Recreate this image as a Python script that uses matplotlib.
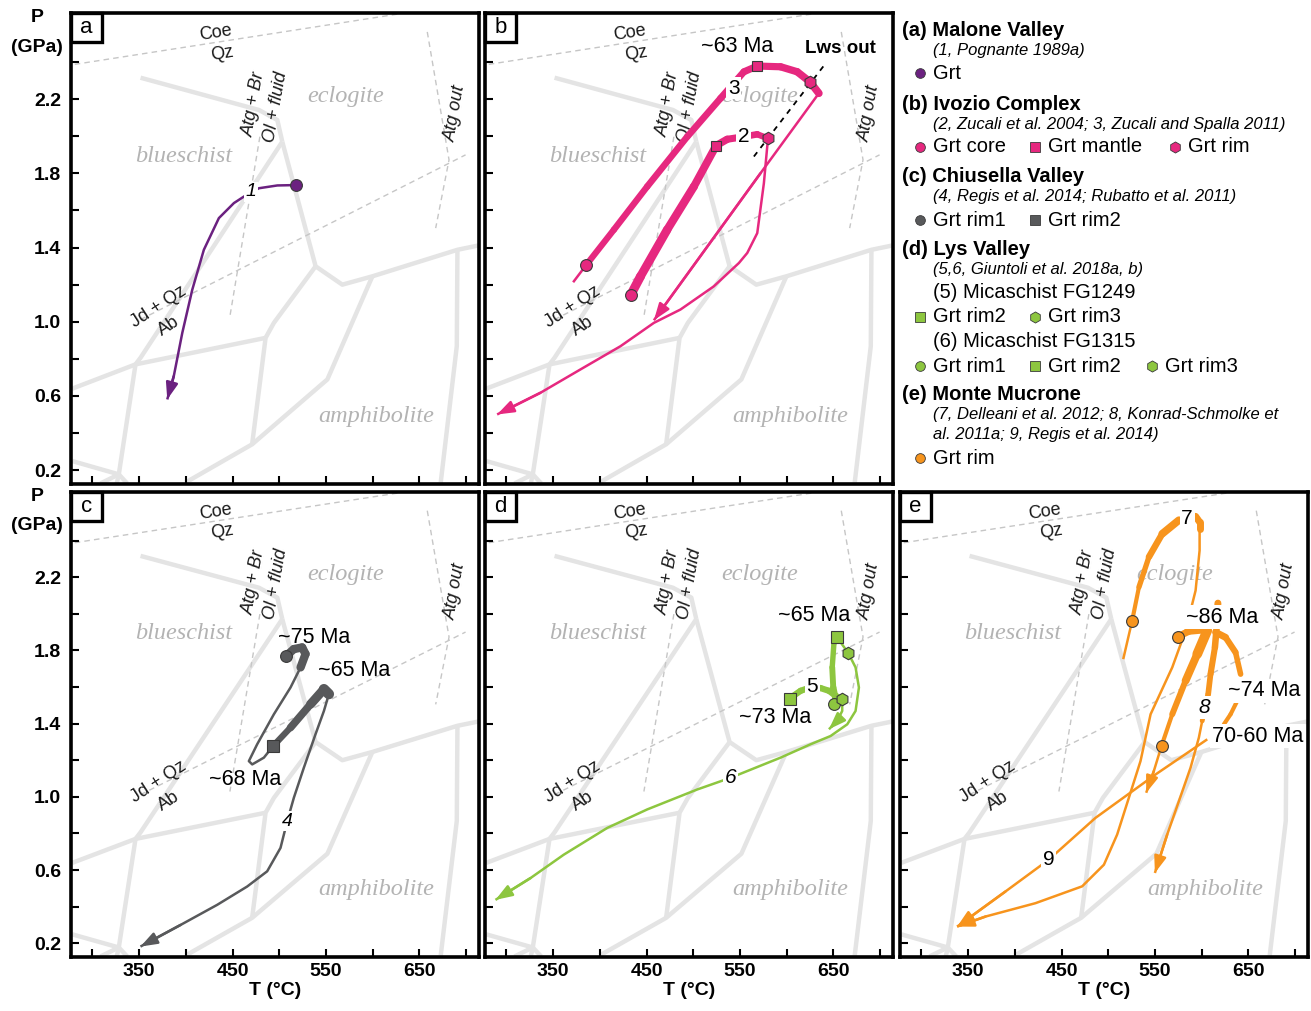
import numpy as np
import matplotlib.pyplot as plt
from matplotlib.collections import LineCollection
from matplotlib.patches import Rectangle

plt.rcParams['font.family'] = ['Liberation Sans', 'DejaVu Sans']

# ---------------- petrogenetic grid, T (°C) / P (GPa) ----------------
facies_T = [
    [351.5, 478.3, 498.0, 503.3],
    [503.3, 351.5, 346.1, 328.2, 326.0],
    [503.3, 539.0, 567.6, 599.8, 690.9, 714.0],
    [539.0, 494.3, 485.4, 471.0],
    [278.2, 346.1, 485.4],
    [599.8, 551.6, 471.0, 399.7],
    [690.9, 690.2, 673.0],
    [278.2, 328.2, 337.2],
    [328.2, 308.6],
]
facies_P = [
    [2.316, 2.142, 2.088, 1.971],
    [1.971, 0.806, 0.770, 0.177, 0.128],
    [1.971, 1.299, 1.200, 1.245, 1.388, 1.412],
    [1.299, 0.994, 0.913, 0.339],
    [0.639, 0.770, 0.913],
    [1.245, 0.689, 0.339, 0.133],
    [1.388, 0.868, 0.133],
    [0.249, 0.177, 0.128],
    [0.177, 0.128],
]
react_T = [[281.0, 628.0], [479.3, 447.2], [351.5, 699.6], [658.6, 681.9, 667.6]]
react_P = [[2.388, 2.660], [1.998, 1.029], [1.012, 1.900], [2.563, 1.873, 1.505]]

grid_text = ['Coe', 'Qz', 'Atg + Br', 'Ol + fluid', 'Atg out', 'Jd + Qz', 'Ab']
grid_text_T = [431.8, 439.0, 473.6, 496.1, 688.9, 371.1, 381.8]
grid_text_P = [2.555, 2.447, 2.174, 2.160, 2.124, 1.083, 0.976]
grid_text_rot = [9, 9, 80, 80, 80, 33, 33]
grid_text_ital = [False, False, True, True, True, False, False]

facies_names = ['eclogite', 'blueschist', 'amphibolite']
facies_name_T = [571.2, 397.9, 604.4]
facies_name_P = [2.214, 1.891, 0.491]

# ---------------- (a) Malone Valley ----------------
a1_T = [517.6, 498.0, 478.3, 462.2, 451.5, 435.4, 419.3, 406.9, 396.2, 387.1, 380.1]
a1_P = [1.737, 1.735, 1.720, 1.675, 1.640, 1.559, 1.388, 1.173, 0.940, 0.707, 0.581]
a_grt = ([517.6], [1.737])

# ---------------- (b) Ivozio Complex ----------------
b3_tail_T = [371.4, 385.7]
b3_tail_P = [1.213, 1.308]
b3_thick_T = [385.7, 415.0, 450.7, 493.6, 529.3, 554.3, 568.6, 593.6, 611.4, 625.0, 634.6]
b3_thick_P = [1.308, 1.496, 1.729, 1.998, 2.205, 2.348, 2.379, 2.375, 2.348, 2.294, 2.232]
b3_retro_T = [634.6, 572.1, 457.9]
b3_retro_P = [2.232, 1.801, 1.008]
b2_thick_T = [432.9, 443.6, 472.1, 500.7, 524.6, 536.4, 554.3, 568.6, 580.0]
b2_thick_P = [1.143, 1.245, 1.496, 1.729, 1.950, 1.984, 1.998, 2.011, 1.989]
b2_retro_T = [580.0, 579.3, 575.7, 568.6, 557.9, 549.0, 522.1, 486.4, 457.9, 422.1, 379.3, 336.4, 290.0]
b2_retro_P = [1.989, 1.945, 1.747, 1.478, 1.371, 1.317, 1.191, 1.066, 0.994, 0.868, 0.743, 0.617, 0.500]
b_core = ([385.7, 432.9], [1.308, 1.143])
b_mantle = ([568.6, 524.6], [2.379, 1.950])
b_rim = ([625.0, 580.0], [2.294, 1.989])
lws_T = [565.0, 641.8]
lws_P = [1.891, 2.393]

# ---------------- (c) Chiusella Valley ----------------
c_hook_T = [506.8, 515.7, 524.6, 528.2, 522.9]
c_hook_P = [1.767, 1.807, 1.816, 1.780, 1.707]
c_loop_T = [522.9, 512.1, 494.3, 476.4, 467.5, 471.1, 483.6, 493.6]
c_loop_P = [1.707, 1.597, 1.451, 1.287, 1.195, 1.177, 1.214, 1.278]
c_thick_T = [493.6, 512.1, 533.6, 547.9, 553.2]
c_thick_P = [1.278, 1.378, 1.506, 1.588, 1.561]
c_retro_T = [553.2, 547.9, 538.9, 526.4, 515.7, 508.6, 501.4, 487.1, 465.7, 433.6, 394.3, 351.4]
c_retro_P = [1.561, 1.469, 1.342, 1.159, 0.995, 0.867, 0.721, 0.593, 0.510, 0.410, 0.300, 0.182]
c_rim1 = ([506.8], [1.767])
c_rim2 = ([493.6], [1.278])

# ---------------- (d) Lys Valley ----------------
d6_thick_T = [650.7, 652.5, 650.0, 648.9, 650.7, 653.6]
d6_thick_P = [1.506, 1.533, 1.597, 1.707, 1.835, 1.875]
d6_retro_T = [653.6, 666.1, 673.9, 677.5, 673.9, 665.0, 647.1, 625.7, 593.6, 540.0, 504.3,
              450.7, 407.9, 361.4, 325.7, 288.2]
d6_retro_P = [1.875, 1.785, 1.707, 1.597, 1.469, 1.396, 1.332, 1.287, 1.214, 1.104, 1.040,
              0.931, 0.830, 0.684, 0.556, 0.437]
d5_thick_T = [603.2, 615.0, 627.5, 636.4, 645.4, 652.5, 659.6]
d5_thick_P = [1.537, 1.579, 1.601, 1.594, 1.579, 1.552, 1.533]
d5_retro_T = [659.6, 659.6, 654.3, 645.4]
d5_retro_P = [1.533, 1.469, 1.415, 1.369]
d_rim1 = ([650.7], [1.506])
d_rim2 = ([603.2, 653.6], [1.537, 1.875])
d_rim3 = ([659.6, 666.1], [1.533, 1.785])

# ---------------- (e) Monte Mucrone ----------------
e7_tail_T = [516.1, 525.7]
e7_tail_P = [1.752, 1.963]
e7_thick_T = [525.7, 532.9, 543.6, 557.9, 575.7]
e7_thick_P = [1.963, 2.145, 2.310, 2.437, 2.511]
e7_top_T = [593.6, 597.9, 597.9]
e7_top_P = [2.532, 2.501, 2.465]
e7_retro_T = [597.9, 597.9, 593.6, 582.9, 568.6, 545.4, 534.6, 520.4, 509.6, 495.4, 472.1,
              422.1, 368.6, 338.2]
e7_retro_P = [2.465, 2.346, 2.127, 1.908, 1.707, 1.451, 1.195, 0.967, 0.794, 0.629, 0.511,
              0.419, 0.346, 0.291]
e8a_T = [574.6, 586.4, 606.1]
e8a_P = [1.875, 1.904, 1.913]
e8b_T = [557.1, 568.6, 582.9, 595.4, 606.1]
e8b_P = [1.278, 1.451, 1.634, 1.780, 1.908]
e8c_T = [615.0, 625.7, 636.4, 641.8]
e8c_P = [1.899, 1.871, 1.789, 1.670]
e8d_T = [640.0, 638.2, 631.1, 623.9]
e8d_P = [1.597, 1.524, 1.451, 1.396]
e8e_T = [617.5, 616.8, 614.3, 609.6, 607.1, 603.2, 600.7]
e8e_P = [2.058, 1.963, 1.816, 1.670, 1.561, 1.488, 1.415]
e8_retro_T = [600.7, 597.1, 588.2, 575.7, 563.2, 550.0]
e8_retro_P = [1.415, 1.323, 1.159, 0.976, 0.794, 0.584]
e8f_T = [557.1, 548.9, 540.7]
e8f_P = [1.278, 1.141, 1.022]
e9_T = [606.1, 550.7, 486.4, 436.4, 390.0, 338.2]
e9_P = [1.314, 1.122, 0.885, 0.657, 0.483, 0.291]
e_rim = ([525.7, 574.6, 557.1], [1.963, 1.875, 1.278])

PURPLE, PINK, GREY, GREEN, ORANGE = '#6b2180', '#e6287f', '#58595b', '#8dc63f', '#f7941d'
EDGE = '#3a3a3a'


def thin(ax, T, P, c, arrow=False, lw=1.8):
    ax.plot(T, P, color=c, lw=lw, solid_capstyle='butt', solid_joinstyle='round', zorder=3)
    if arrow:
        ax.annotate('', xy=(T[-1], P[-1]), xytext=(T[-2], P[-2]), zorder=3,
                    arrowprops=dict(arrowstyle='-|>,head_length=1.0,head_width=0.36',
                                    color=c, lw=lw, shrinkA=0, shrinkB=0))


def thick(ax, T, P, c, w0, w1=None):
    w1 = w0 if w1 is None else w1
    pts = np.column_stack([T, P])
    segs = np.stack([pts[:-1], pts[1:]], axis=1)
    lc = LineCollection(segs, colors=c, linewidths=np.linspace(w0, w1, len(segs)), zorder=3)
    lc.set_capstyle('round')
    ax.add_collection(lc)


def marks(ax, xy, c, m, ms=8.5):
    ax.plot(xy[0], xy[1], ls='none', marker=m, ms=ms, mfc=c, mec=EDGE, mew=0.8, zorder=5)


def tag(ax, T, P, s, size=14, style='normal', box=True):
    kw = dict(boxstyle='square,pad=0.08', fc='white', ec='none') if box else None
    ax.text(T, P, s, fontsize=size, style=style, ha='center', va='center', bbox=kw, zorder=4)


def setup(ax, letter, xlab, ylab):
    ax.set_xlim(277, 714)
    ax.set_ylim(0.125, 2.665)
    ax.set_xticks([350, 450, 550, 650])
    ax.set_xticks([300, 400, 500, 600, 700], minor=True)
    ax.set_yticks([0.2, 0.6, 1.0, 1.4, 1.8, 2.2])
    ax.set_yticklabels(['0.2', '0.6', '1.0', '1.4', '1.8', '2.2'])
    ax.set_yticks([0.4, 0.8, 1.2, 1.6, 2.0, 2.4], minor=True)
    ax.tick_params(which='both', direction='in', length=6, width=1.5, labelsize=14,
                   labelbottom=xlab, labelleft=ylab)
    ax.tick_params(axis='x', pad=4)
    ax.tick_params(axis='y', pad=7)
    for lab in ax.get_xticklabels() + ax.get_yticklabels():
        lab.set_fontweight('bold')
    for sp in ax.spines.values():
        sp.set_linewidth(2.6)
    if xlab:
        ax.set_xlabel('T (°C)', fontsize=14, fontweight='bold', labelpad=2)
    if ylab:
        ax.text(-0.083, 0.99, 'P', transform=ax.transAxes, ha='center', va='center',
                fontsize=14, fontweight='bold')
        ax.text(-0.083, 0.927, '(GPa)', transform=ax.transAxes, ha='center', va='center',
                fontsize=14, fontweight='bold')
    ax.add_patch(Rectangle((0, 1 - 29 / 471), 31 / 408, 29 / 471, transform=ax.transAxes,
                           fc='white', ec='black', lw=2.4, zorder=6, clip_on=False))
    ax.text(15.5 / 408, 1 - 14.5 / 471, letter, transform=ax.transAxes, ha='center',
            va='center', fontsize=16, zorder=7)

    # background grid
    for T, P in zip(facies_T, facies_P):
        ax.plot(T, P, color='#e4e4e4', lw=3.2, solid_capstyle='butt', zorder=1)
    for T, P in zip(react_T, react_P):
        ax.plot(T, P, color='#c6c6c6', lw=1.0, ls=(0, (4, 3)), zorder=1)
    for s, T, P, r, it in zip(grid_text, grid_text_T, grid_text_P, grid_text_rot, grid_text_ital):
        ax.text(T, P, s, fontsize=13, rotation=r, style='italic' if it else 'normal',
                ha='center', va='center', rotation_mode='anchor', color='#1a1a1a', zorder=2)
    for s, T, P in zip(facies_names, facies_name_T, facies_name_P):
        ax.text(T, P, s, fontsize=17.5, family='Liberation Serif', style='italic',
                color='#b3b3b3', ha='center', va='center', zorder=2)


fig = plt.figure(figsize=(13.11, 10.11), dpi=100)


def px_axes(l, t, r, b):
    return fig.add_axes([l / 1311, 1 - b / 1011, (r - l) / 1311, (b - t) / 1011])


ax_a = px_axes(71, 13, 479, 484)
ax_b = px_axes(485, 13, 893, 484)
ax_c = px_axes(71, 492, 479, 957)
ax_d = px_axes(485, 492, 893, 957)
ax_e = px_axes(900, 492, 1308, 957)

setup(ax_a, 'a', False, True)
setup(ax_b, 'b', False, False)
setup(ax_c, 'c', True, True)
setup(ax_d, 'd', True, False)
setup(ax_e, 'e', True, False)

# (a)
thin(ax_a, a1_T, a1_P, PURPLE, arrow=True)
marks(ax_a, a_grt, PURPLE, 'o')
tag(ax_a, 469.5, 1.70, '1', style='italic')

# (b)
ax_b.plot(lws_T, lws_P, color='black', lw=1.3, ls=(0, (3, 3)), zorder=2)
ax_b.text(657.9, 2.474, 'Lws out', fontsize=13.5, fontweight='bold', ha='center', va='center')
thin(ax_b, b3_tail_T, b3_tail_P, PINK)
thick(ax_b, b3_thick_T, b3_thick_P, PINK, 4.5, 5.5)
thin(ax_b, b3_retro_T, b3_retro_P, PINK, arrow=True)
thick(ax_b, b2_thick_T, b2_thick_P, PINK, 6.5, 4.5)
thin(ax_b, b2_retro_T, b2_retro_P, PINK, arrow=True)
marks(ax_b, b_core, PINK, 'o')
marks(ax_b, b_mantle, PINK, 's', 7.5)
marks(ax_b, b_rim, PINK, 'h', 9)
tag(ax_b, 543.6, 2.259, '3', size=15)
tag(ax_b, 554.3, 1.998, '2', size=15)
tag(ax_b, 547.1, 2.483, '~63 Ma', size=15.5, box=False)

# (c)
thick(ax_c, c_hook_T, c_hook_P, GREY, 6)
thin(ax_c, c_loop_T, c_loop_P, GREY)
thick(ax_c, c_thick_T, c_thick_P, GREY, 4.5, 7.5)
thin(ax_c, c_retro_T, c_retro_P, GREY, arrow=True)
marks(ax_c, c_rim1, GREY, 'o')
marks(ax_c, c_rim2, GREY, 's', 8)
tag(ax_c, 508.6, 0.867, '4', style='italic')
tag(ax_c, 537.1, 1.871, '~75 Ma', size=15.5, box=False)
tag(ax_c, 580.0, 1.689, '~65 Ma', size=15.5, box=False)
tag(ax_c, 464.0, 1.095, '~68 Ma', size=15.5, box=False)

# (d)
thick(ax_d, d6_thick_T, d6_thick_P, GREEN, 5, 3.5)
thin(ax_d, d6_retro_T, d6_retro_P, GREEN, arrow=True)
thick(ax_d, d5_thick_T, d5_thick_P, GREEN, 4.5)
thin(ax_d, d5_retro_T, d5_retro_P, GREEN, arrow=True)
marks(ax_d, d_rim1, GREEN, 'o')
marks(ax_d, d_rim2, GREEN, 's', 8)
marks(ax_d, d_rim3, GREEN, 'h', 9)
tag(ax_d, 627.5, 1.601, '5', size=15)
tag(ax_d, 540.0, 1.104, '6', size=15, style='italic')
tag(ax_d, 629.3, 1.990, '~65 Ma', size=15.5, box=False)
tag(ax_d, 588.2, 1.433, '~73 Ma', size=15.5, box=False)

# (e)
thin(ax_e, e7_tail_T, e7_tail_P, ORANGE)
thick(ax_e, e7_thick_T, e7_thick_P, ORANGE, 3, 5.5)
thick(ax_e, e7_top_T, e7_top_P, ORANGE, 5)
thin(ax_e, e7_retro_T, e7_retro_P, ORANGE, arrow=True)
thick(ax_e, e8a_T, e8a_P, ORANGE, 5)
thick(ax_e, e8b_T, e8b_P, ORANGE, 3, 7)
thick(ax_e, e8c_T, e8c_P, ORANGE, 5, 4)
thick(ax_e, e8d_T, e8d_P, ORANGE, 3)
thick(ax_e, e8e_T, e8e_P, ORANGE, 5, 3.5)
thin(ax_e, e8_retro_T, e8_retro_P, ORANGE, arrow=True)
thin(ax_e, e8f_T, e8f_P, ORANGE, arrow=True)
thin(ax_e, e9_T, e9_P, ORANGE, arrow=True)
marks(ax_e, e_rim, ORANGE, 'o')
tag(ax_e, 584.6, 2.520, '7', size=15)
tag(ax_e, 603.2, 1.488, '8', size=15, style='italic')
tag(ax_e, 436.4, 0.657, '9', size=15)
tag(ax_e, 622.1, 1.981, '~86 Ma', size=15.5)
tag(ax_e, 666.8, 1.579, '~74 Ma', size=15.5)
tag(ax_e, 659.6, 1.332, '70-60 Ma', size=15.5)

# ---------------- legend (pixel layout) ----------------
lg = fig.add_axes([0, 0, 1, 1])
lg.set_xlim(0, 1311)
lg.set_ylim(1011, 0)
lg.axis('off')
lg.patch.set_visible(False)


def head(y, s):
    lg.text(902, y, s, fontsize=14.5, fontweight='bold', va='center')


def cite(y, s):
    lg.text(933, y, s, fontsize=12, style='italic', va='center')


def item(x, y, c, m, s, ms=7):
    lg.plot([x], [y], ls='none', marker=m, ms=ms, mfc=c, mec=EDGE, mew=0.6)
    lg.text(x + 13, y, s, fontsize=14.5, va='center')


head(30.7, '(a) Malone Valley')
cite(50.7, '(1, Pognante 1989a)')
item(920, 73.3, PURPLE, 'o', 'Grt')
head(104, '(b) Ivozio Complex')
cite(124, '(2, Zucali et al. 2004; 3, Zucali and Spalla 2011)')
item(920, 146.7, PINK, 'o', 'Grt core')
item(1035, 146.7, PINK, 's', 'Grt mantle', 6.5)
item(1175, 146.7, PINK, 'h', 'Grt rim', 8)
head(176, '(c) Chiusella Valley')
cite(196.7, '(4, Regis et al. 2014; Rubatto et al. 2011)')
item(920, 220, GREY, 'o', 'Grt rim1')
item(1035, 220, GREY, 's', 'Grt rim2', 6.5)
head(249.3, '(d) Lys Valley')
cite(269.3, '(5,6, Giuntoli et al. 2018a, b)')
lg.text(933, 292.7, '(5) Micaschist FG1249', fontsize=14.5, va='center')
item(920, 316.7, GREEN, 's', 'Grt rim2', 6.5)
item(1035, 316.7, GREEN, 'h', 'Grt rim3', 8)
lg.text(933, 341.7, '(6) Micaschist FG1315', fontsize=14.5, va='center')
item(920, 366, GREEN, 'o', 'Grt rim1')
item(1035, 366, GREEN, 's', 'Grt rim2', 6.5)
item(1152, 366, GREEN, 'h', 'Grt rim3', 8)
head(395, '(e) Monte Mucrone')
cite(415, '(7, Delleani et al. 2012; 8, Konrad-Schmolke et')
cite(435, 'al. 2011a; 9, Regis et al. 2014)')
item(920, 458.3, ORANGE, 'o', 'Grt rim')

fig.savefig('out.png', dpi=100)
